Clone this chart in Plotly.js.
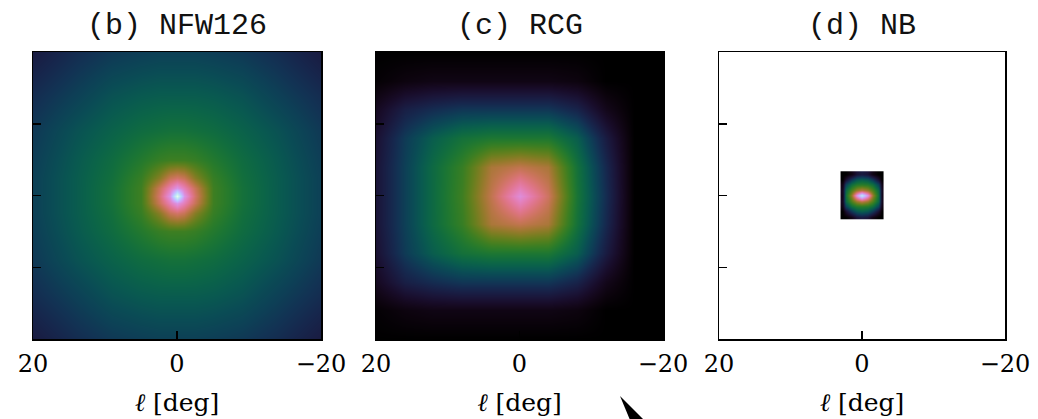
<!DOCTYPE html>
<html>
<head>
<meta charset="utf-8">
<script src="https://cdn.plot.ly/plotly-3.0.1.min.js"></script>
<style>html,body{margin:0;padding:0;background:#fff;}#chart{width:1038px;height:419px;}</style>
</head>
<body>
<div id="chart"></div>
<script>
// ---------- data ----------
const panelTitles = ["(b) NFW126", "(c) RCG", "(d) NB"];
const xTickVals = [20, 0, -20];
const yTickVals = [-20, -10, 0, 10, 20];
const axisLabel = "<i>ℓ</i> [deg]";

// (b) NFW126 : intensity level on a non-uniform grid (l and b in deg)
const nfwL = [20, 14, 9, 5, 2.5, 1, 0, -1, -2.5, -5, -9, -14, -20];
const nfwB = [20, 14, 9, 5, 2.5, 1, 0, -1, -2.5, -5, -9, -14, -20];
const nfwZ = [
  [0.12,0.16,0.185,0.195,0.2,0.2,0.2,0.2,0.2,0.195,0.185,0.16,0.12],
  [0.16,0.2,0.235,0.25,0.255,0.255,0.255,0.255,0.255,0.25,0.235,0.2,0.16],
  [0.185,0.235,0.27,0.295,0.305,0.31,0.31,0.31,0.305,0.295,0.27,0.235,0.185],
  [0.195,0.25,0.295,0.34,0.37,0.38,0.38,0.38,0.37,0.34,0.295,0.25,0.195],
  [0.2,0.255,0.305,0.37,0.46,0.54,0.56,0.54,0.46,0.37,0.305,0.255,0.2],
  [0.2,0.255,0.31,0.38,0.54,0.64,0.7,0.64,0.54,0.38,0.31,0.255,0.2],
  [0.2,0.255,0.31,0.38,0.56,0.7,0.95,0.7,0.56,0.38,0.31,0.255,0.2],
  [0.2,0.255,0.31,0.38,0.54,0.64,0.7,0.64,0.54,0.38,0.31,0.255,0.2],
  [0.2,0.255,0.305,0.37,0.46,0.54,0.56,0.54,0.46,0.37,0.305,0.255,0.2],
  [0.195,0.25,0.295,0.34,0.37,0.38,0.38,0.38,0.37,0.34,0.295,0.25,0.195],
  [0.185,0.235,0.27,0.295,0.305,0.31,0.31,0.31,0.305,0.295,0.27,0.235,0.185],
  [0.16,0.2,0.235,0.25,0.255,0.255,0.255,0.255,0.255,0.25,0.235,0.2,0.16],
  [0.12,0.16,0.185,0.195,0.2,0.2,0.2,0.2,0.2,0.195,0.185,0.16,0.12]
];

// (c) RCG
const rcgL = [20, 16, 12, 8, 4, 0, -4, -8, -12, -16, -20];
const rcgB = [20, 16, 12, 8, 4, 0, -4, -8, -12, -16, -20];
const rcgZ = [
  [0,0,0,0,0,0,0,0,0,0,0],
  [0.01,0.03,0.04,0.04,0.04,0.04,0.04,0.03,0.0,0,0],
  [0.06,0.13,0.16,0.18,0.18,0.18,0.18,0.14,0.05,0,0],
  [0.09,0.19,0.26,0.31,0.33,0.33,0.33,0.26,0.12,0,0],
  [0.1,0.2,0.29,0.37,0.5,0.53,0.5,0.31,0.15,0,0],
  [0.1,0.2,0.29,0.38,0.53,0.68,0.55,0.32,0.16,0,0],
  [0.1,0.2,0.29,0.37,0.5,0.53,0.5,0.31,0.15,0,0],
  [0.09,0.19,0.26,0.31,0.33,0.33,0.33,0.26,0.12,0,0],
  [0.06,0.13,0.16,0.18,0.18,0.18,0.18,0.14,0.05,0,0],
  [0.01,0.03,0.04,0.04,0.04,0.04,0.04,0.03,0.0,0,0],
  [0,0,0,0,0,0,0,0,0,0,0]
];

// (d) NB : only a small box around the centre
const nbL = [2.75, 2.25, 1.5, 0.75, 0, -0.75, -1.5, -2.25, -2.75];
const nbB = [3, 2.25, 1.5, 0.75, 0, -0.75, -1.5, -2.25, -3];
const nbZ = [
  [0,0,0.04,0.1,0.12,0.1,0.04,0,0],
  [0,0.08,0.18,0.24,0.26,0.24,0.18,0.08,0],
  [0.04,0.2,0.3,0.34,0.35,0.34,0.3,0.2,0.04],
  [0.06,0.28,0.4,0.48,0.52,0.48,0.4,0.28,0.06],
  [0.05,0.3,0.48,0.7,0.88,0.7,0.48,0.3,0.05],
  [0.06,0.28,0.4,0.48,0.52,0.48,0.4,0.28,0.06],
  [0.04,0.2,0.3,0.34,0.35,0.34,0.3,0.2,0.04],
  [0,0.08,0.18,0.24,0.26,0.24,0.18,0.08,0],
  [0,0,0.04,0.1,0.12,0.1,0.04,0,0]
];

// ---------- colour map (cubehelix, slightly raised hue) ----------
function cubehelix(t) {
  const h = 1.3;
  const phi = 2 * Math.PI * (0.5 / 3 - 1.5 * t);
  const a = h * t * (1 - t) / 2;
  const c = Math.cos(phi), s = Math.sin(phi);
  const cl = v => Math.round(255 * Math.min(1, Math.max(0, v)));
  const r = t + a * (-0.14861 * c + 1.78277 * s);
  const g = t + a * (-0.29227 * c - 0.90649 * s);
  const b = t + a * (1.97294 * c);
  return `rgb(${cl(r)},${cl(g)},${cl(b)})`;
}
const colorscale = [];
for (let i = 0; i <= 40; i++) colorscale.push([i / 40, cubehelix(i / 40)]);

// ---------- traces ----------
function hm(x, y, z, xa, ya) {
  return {type: 'heatmap', x: x, y: y, z: z, xaxis: xa, yaxis: ya,
    colorscale: colorscale, zmin: 0, zmax: 1, zsmooth: 'best',
    showscale: false, hoverinfo: 'skip'};
}
const data = [
  hm(nfwL, nfwB, nfwZ, 'x', 'y'),
  hm(rcgL, rcgB, rcgZ, 'x2', 'y2'),
  hm(nbL, nbB, nbZ, 'x3', 'y3')
];

// ---------- layout ----------
const W = 1038, H = 419;
const M = {l: 0, r: 0, t: 52, b: 80};
const domains = [[33, 321], [376, 663], [719, 1005]];
const serif = '"DejaVu Serif", "Liberation Serif", serif';
const mono = '"Liberation Mono", "Courier New", monospace';

function xax(d, anchor) {
  return {domain: [d[0] / W, d[1] / W], anchor: anchor, range: [20, -20],
    tickvals: xTickVals, ticks: 'inside', ticklen: 8, tickwidth: 1.5, tickcolor: '#000',
    showline: true, mirror: true, linecolor: '#000', linewidth: 1.5,
    showgrid: false, zeroline: false, fixedrange: true, ticklabelstandoff: 3,
    tickfont: {family: serif, size: 24, color: '#000'},
    title: {text: axisLabel, font: {family: serif, size: 25, color: '#000'}, standoff: 16}};
}
function yax(anchor) {
  return {domain: [0, 1], anchor: anchor, range: [-20, 20],
    tickvals: yTickVals, showticklabels: false, ticks: 'inside', ticklen: 8, tickwidth: 1.5,
    tickcolor: '#000', showline: true, mirror: true, linecolor: '#000', linewidth: 1.5,
    showgrid: false, zeroline: false, fixedrange: true};
}

const plotH = H - M.t - M.b;
const annotations = panelTitles.map((t, i) => ({
  text: t, xref: 'paper', yref: 'paper',
  x: (domains[i][0] + domains[i][1]) / 2 / W,
  y: (H - M.b - 26) / plotH, xanchor: 'center', yanchor: 'middle',
  showarrow: false, font: {family: mono, size: 30, color: '#111'}
}));

// small black pointer tip visible at the bottom edge of the picture
const px = v => v / W, py = v => (H - M.b - v) / plotH;
const shapes = [{
  type: 'path', xref: 'paper', yref: 'paper', layer: 'above',
  path: `M ${px(620)} ${py(396)} L ${px(630)} ${py(420)} L ${px(644)} ${py(420)} Z`,
  fillcolor: '#000', line: {width: 0}
}];

const layout = {
  width: W, height: H, margin: M,
  paper_bgcolor: '#fff', plot_bgcolor: '#fff', showlegend: false,
  xaxis: xax(domains[0], 'y'), yaxis: yax('x'),
  xaxis2: xax(domains[1], 'y2'), yaxis2: yax('x2'),
  xaxis3: xax(domains[2], 'y3'), yaxis3: yax('x3'),
  annotations: annotations, shapes: shapes
};

Plotly.newPlot('chart', data, layout, {displayModeBar: false, staticPlot: true});
</script>
</body>
</html>
